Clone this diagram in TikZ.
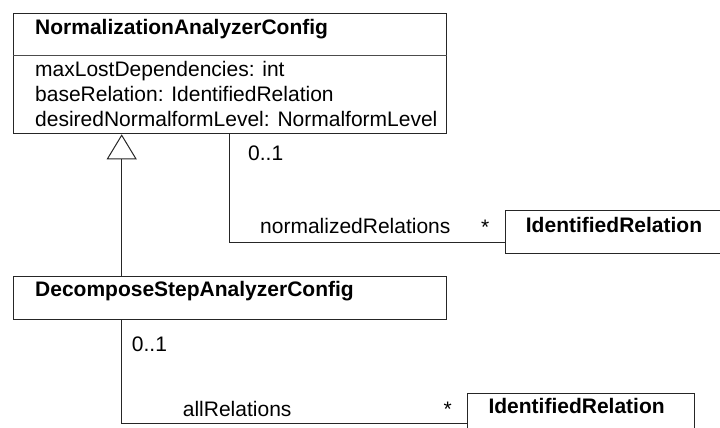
\documentclass[tikz,border=0pt]{standalone}
\usepackage{fontspec}
\setmainfont{Liberation Sans}
\usetikzlibrary{arrows.meta}
\begin{document}
\begin{tikzpicture}[x=1pt,y=-1pt,
  umlline/.style={line width=1pt, draw=black!85},
  classbox/.style={umlline, rectangle, anchor=north west, inner sep=0pt, fill=white},
  lbl/.style={anchor=base west, inner sep=0pt, font=\fontsize{21}{25}\selectfont},
  title/.style={lbl, font=\fontsize{21}{25}\selectfont\bfseries},
  inherit/.style={umlline, -{Triangle[open, length=25pt, width=30pt, line width=1pt]}}
]
\useasboundingbox (0,0) rectangle (720,428);

% class boxes
\node[classbox, minimum width=432.4pt, minimum height=120pt] (nac) at (13.3,13.3) {};
\node[classbox, minimum width=432.4pt, minimum height=43pt] (dsac) at (13.3,276) {};
\node[classbox, minimum width=228pt, minimum height=43.3pt] (ir1) at (505,210) {};
\node[classbox, minimum width=227pt, minimum height=43pt] (ir2) at (467,393) {};

% compartment divider of the top class
\coordinate (divy) at (0,56);
\draw[umlline, draw=black!70] (nac.west |- divy) -- (nac.east |- divy);

% class names and attributes
\node[title] (nacname) at (35,35) {NormalizationAnalyzerConfig};
\node[lbl] (attr1) at (35,76.5) {maxLostDependencies: int};
\node[lbl] (attr2) at (35,101) {baseRelation: IdentifiedRelation};
\node[lbl] (attr3) at (35,126) {desiredNormalformLevel: NormalformLevel};
\node[title] (dsacname) at (35,296.7) {DecomposeStepAnalyzerConfig};
\node[title] (ir1name) at (525.7,232.3) {IdentifiedRelation};
\node[title] (ir2name) at (488.3,413.3) {IdentifiedRelation};

% generalization
\coordinate (genx) at (121.7,0);
\draw[inherit] (dsac.north -| genx) -- (nac.south -| genx);

% association normalizedRelations
\coordinate (a1x) at (229.5,0);
\coordinate (a1y) at (0,242.3);
\draw[umlline] (nac.south -| a1x) |- (ir1.west |- a1y);
\node[lbl] (m1a) at (248,160) {0..1};
\node[lbl] (r1) at (260,233) {normalizedRelations};
\node[lbl] (m1b) at (481,234) {*};

% association allRelations
\coordinate (a2x) at (121.5,0);
\coordinate (a2y) at (0,423.3);
\draw[umlline] (dsac.south -| a2x) |- (ir2.west |- a2y);
\node[lbl] (m2a) at (131.7,351) {0..1};
\node[lbl] (r2) at (182.7,416.7) {allRelations};
\node[lbl] (m2b) at (443.5,416) {*};
\end{tikzpicture}
\end{document}
